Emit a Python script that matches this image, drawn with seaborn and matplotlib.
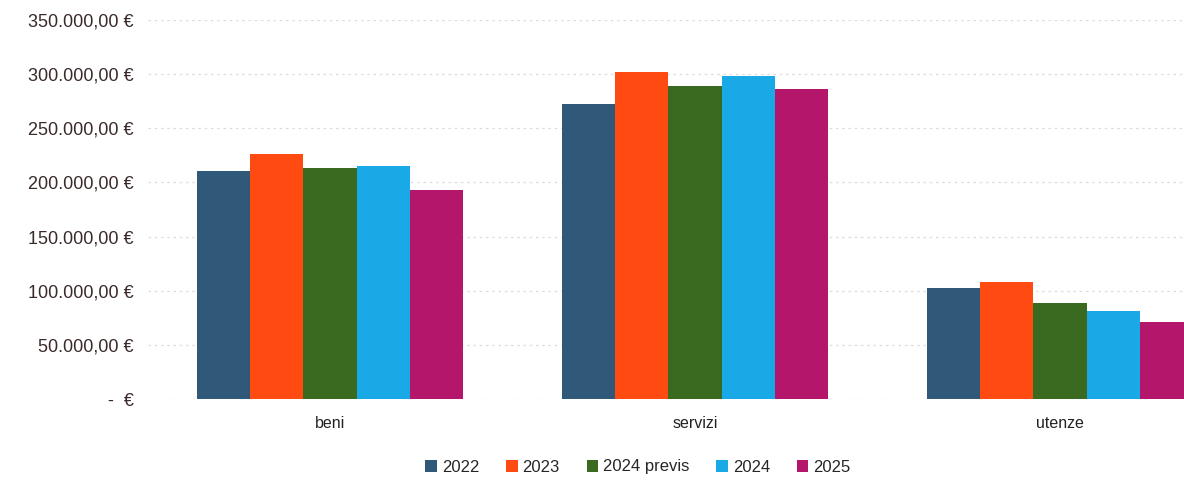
import pandas as pd
import numpy as np
import matplotlib.pyplot as plt
import seaborn as sns
from matplotlib.ticker import FuncFormatter

# dati
categorie = ['beni', 'servizi', 'utenze']
serie = ['2022', '2023', '2024 previs', '2024', '2025']
v2022 = [210600, 272800, 102700]
v2023 = [226000, 301700, 107700]
v2024_previs = [213700, 289000, 88800]
v2024 = [214900, 298000, 81200]
v2025 = [193400, 286000, 71300]
colori = ['#2f5879', '#ff4a12', '#3a6a20', '#18a9e6', '#b3166b']

valori = [v2022, v2023, v2024_previs, v2024, v2025]
df = pd.DataFrame([
    {'categoria': c, 'anno': s, 'valore': v}
    for s, vals in zip(serie, valori)
    for c, v in zip(categorie, vals)
])

sns.set_style('white')
plt.rcParams['font.family'] = ['Liberation Sans', 'DejaVu Sans']

fig = plt.figure(figsize=(11.84, 4.82), dpi=100)
ax = fig.add_axes([147.5 / 1184, 83 / 482, (1184 - 147.5) / 1184, 379 / 482])

sns.barplot(data=df, x='categoria', y='valore', hue='anno', order=categorie,
            hue_order=serie, palette=colori, width=0.73, saturation=1,
            linewidth=0, ax=ax, zorder=3)

def euro(v, pos):
    if v == 0:
        return '-  €'
    s = f'{v:,.2f}'.replace(',', 'X').replace('.', ',').replace('X', '.')
    return s + ' €'

ax.set_ylim(0, 350000)
ax.set_yticks(np.arange(0, 350001, 50000))
ax.yaxis.set_major_formatter(FuncFormatter(euro))
ax.set_xlim(-0.5, (1184 - 147.5) / 365 - 0.5)
ax.grid(axis='y', color='#dcdcdc', linestyle=(0, (2, 3)), linewidth=0.9, zorder=0)
ax.grid(axis='x', visible=False)
for sp in ax.spines.values():
    sp.set_visible(False)

ax.tick_params(axis='y', labelsize=13, colors='#3a2a2a', length=0, pad=10)
ax.tick_params(axis='x', labelsize=11.5, colors='#222222', length=0, pad=12)
ax.set_xlabel('')
ax.set_ylabel('')

ax.legend(loc='center', bbox_to_anchor=(638 / 1184, 15 / 482),
          bbox_transform=fig.transFigure, ncol=5, frameon=False,
          fontsize=12, handlelength=0.7, handleheight=0.7,
          handletextpad=0.3, columnspacing=1.6, borderaxespad=0)

fig.savefig('out.png', dpi=100)
